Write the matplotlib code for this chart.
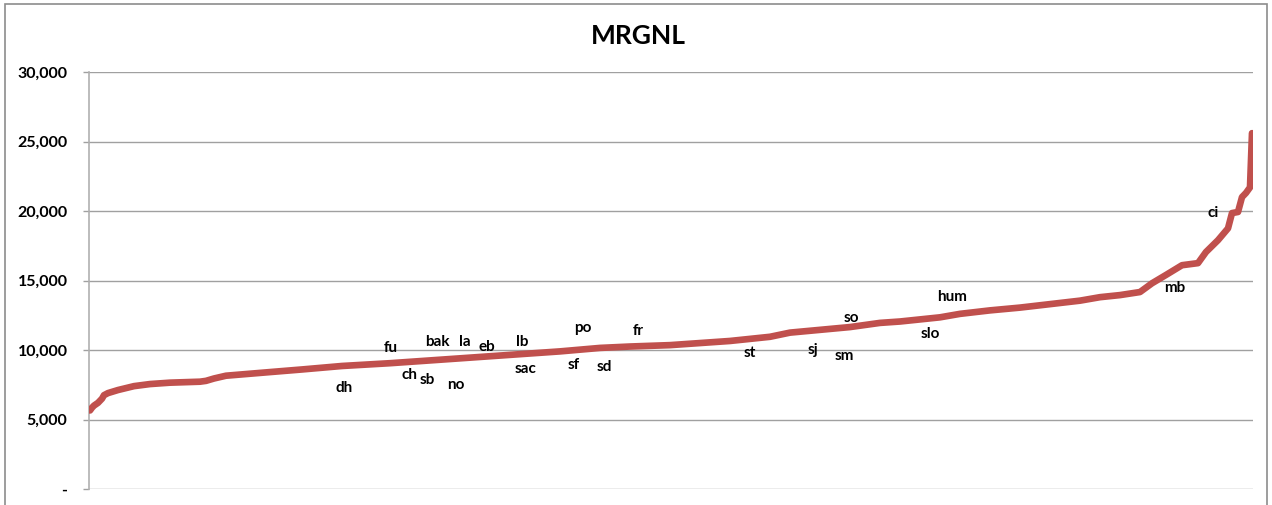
import matplotlib
matplotlib.use('Agg')
import matplotlib.pyplot as plt
from matplotlib.patches import Rectangle
from matplotlib.ticker import FuncFormatter

# sorted MRGNL values (rank position, value)
rank = [0, 1, 2, 4, 6, 7, 9, 14, 22, 30, 40, 55, 58, 62, 68, 89, 106, 126,
        150, 165, 180, 190, 215, 235, 255, 270, 290, 305, 320, 330, 340,
        350, 365, 380, 395, 405, 425, 435, 450, 465, 480, 495, 505, 515, 525,
        531, 538, 546, 554, 558, 564, 569, 571, 574, 576, 578, 580, 581]
mrgnl = [5650, 5850, 6000, 6200, 6500, 6750, 6900, 7120, 7400, 7550, 7650,
         7720, 7780, 7950, 8150, 8400, 8600, 8850, 9050, 9200, 9350, 9450,
         9700, 9900, 10150, 10250, 10350, 10500, 10650, 10800, 10950,
         11250, 11450, 11650, 11950, 12050, 12350, 12600, 12850, 13050, 13300,
         13550, 13800, 13950, 14170, 14800, 15400, 16100, 16250, 17050, 17900,
         18750, 19850, 19930, 21000, 21300, 21700, 25600]

# data labels: name, rank position, value where the text sits
lab_names = ['dh', 'fu', 'ch', 'sb', 'bak', 'no', 'la', 'eb', 'lb', 'sac',
             'sf', 'po', 'sd', 'fr', 'st', 'sj', 'sm', 'so', 'slo', 'hum',
             'mb', 'ci']
lab_x = [127, 150.5, 159.5, 168.5, 173.5, 183, 187.5, 198.5, 216, 218, 242,
         246.5, 257, 274, 330, 361.5, 377, 380.5, 420, 431, 542.5, 561.5]
lab_y = [7270, 10140, 8200, 7840, 10580, 7480, 10580, 10220, 10580, 8630,
         8920, 11580, 8780, 11370, 9780, 10000, 9570, 12300, 11150, 13810,
         14460, 19860]

plt.rcParams['font.family'] = ['Lato', 'DejaVu Sans']

fig = plt.figure(figsize=(12.72, 5.05), dpi=100)
ax = fig.add_axes([89/1272, 1 - 489/505, (1253 - 89)/1272, (489 - 72)/505])

ax.plot(rank, mrgnl, color='#C0504D', lw=4.8, solid_capstyle='round',
        solid_joinstyle='round', zorder=3)

for name, x, y in zip(lab_names, lab_x, lab_y):
    ax.text(x, y, name, ha='center', va='center', fontsize=11,
            fontweight='bold', color='black', zorder=4)

ax.set_xlim(-0.5, 581.5)
ax.set_ylim(0, 30000)
ax.set_yticks(range(0, 30001, 5000))
ax.yaxis.set_major_formatter(FuncFormatter(
    lambda v, p: '-' if v == 0 else '{:,.0f}'.format(v)))
ax.grid(axis='y', color='#a0a0a0', lw=1)
ax.set_axisbelow(True)
ax.set_xticks([])
for s in ['top', 'right', 'bottom']:
    ax.spines[s].set_visible(False)
ax.spines['left'].set_color('#b0b0b0')
ax.spines['left'].set_linewidth(1.2)
ax.tick_params(axis='y', length=4.5, width=1, color='#a0a0a0', pad=11,
               labelsize=11.5)
for t in ax.get_yticklabels():
    t.set_fontweight('bold')

fig.text(638/1272, 1 - 36/505, 'MRGNL', ha='center', va='center',
         fontsize=19, fontweight='bold')

fig.patches.append(Rectangle((5/1272, -0.05), 1262/1272, 1.05 + 1 - 4/505 - 1,
                             transform=fig.transFigure, fill=False,
                             edgecolor='#8c8c8c', lw=1.2))

plt.savefig('out.png', dpi=100)
